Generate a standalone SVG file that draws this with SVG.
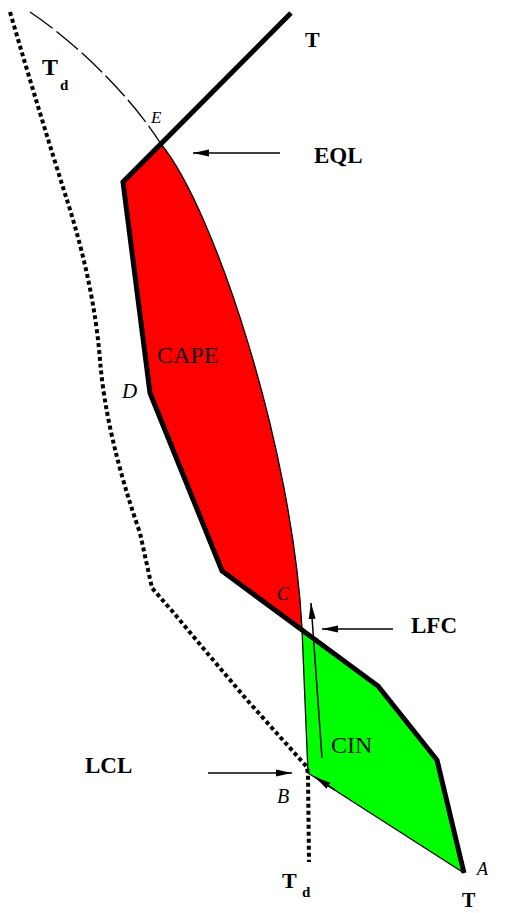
<svg xmlns="http://www.w3.org/2000/svg" width="531" height="913" viewBox="0 0 531 913">
<defs>
<style>
.lbl{font-family:"Liberation Serif","Times New Roman",serif;font-weight:bold;fill:#000}
.reg{font-family:"Liberation Serif","Times New Roman",serif;fill:#111}
.it{font-family:"Liberation Serif","Times New Roman",serif;font-style:italic;fill:#000}
.thin{fill:none;stroke:#000;stroke-width:1.3}
.arr{fill:none;stroke:#000;stroke-width:1.5}
</style>
<marker id="ah" markerUnits="userSpaceOnUse" viewBox="0 0 16 8" markerWidth="16" markerHeight="8" refX="16" refY="4" orient="auto">
<path d="M0,0.5 L16,4 L0,7.5 z" fill="#000"/>
</marker>
</defs>
<rect width="531" height="913" fill="#fff"/>
<g id="cape">
<path d="M161,144 L123,182 L150,393 L222,571 L302,629 C293,450 215,210 161,144 z" fill="#ff0000"/>
</g>
<g id="cin">
<path d="M302,629 L378,686 L437,760 L464,873 L308,773 z" fill="#00ff00"/>
</g>
<g id="connectors">
<path d="M30,12 C75,42 130,95 161,144" class="thin" stroke-dasharray="28,5"/>
<path d="M161,144 C215,210 293,450 302,629 L308,773 L464,873" class="thin"/>
<path d="M10,12 Q40,115 67,200 T100,360 T140,533 L152,588 L173,612 L203,648 L247,700 L307,767 L308,775 L309,862" fill="none" stroke="#000" stroke-width="4" stroke-dasharray="4,3" stroke-linejoin="round"/>
<path d="M291,13 L123,182 L150,393 L222,571 L378,686 L437,760 L464,873" fill="none" stroke="#000" stroke-width="5" stroke-linejoin="miter"/>
<path d="M280,153 L193,153" class="arr" marker-end="url(#ah)"/>
<path d="M393,629 L322,629" class="arr" marker-end="url(#ah)"/>
<path d="M208,773 L292,773" class="arr" marker-end="url(#ah)"/>
<path d="M322,758 L311,603" class="arr" marker-end="url(#ah)"/>
<path d="M335,790 L315,777" class="arr" stroke-width="1" marker-end="url(#ah)"/>
</g>
<g id="labels">
<text x="305" y="47" class="lbl" font-size="22">T</text>
<text x="42" y="75" class="lbl" font-size="24">T</text>
<text x="60" y="90" class="lbl" font-size="15">d</text>
<text x="151" y="123" class="it" font-size="17">E</text>
<text x="314" y="163" class="lbl" font-size="23">EQL</text>
<text x="157" y="363" class="reg" font-size="24">CAPE</text>
<text x="122" y="398" class="it" font-size="21">D</text>
<text x="277" y="600" class="it" font-size="18">C</text>
<text x="411" y="633" class="lbl" font-size="23">LFC</text>
<text x="331" y="753" class="reg" font-size="24">CIN</text>
<text x="85" y="773" class="lbl" font-size="23">LCL</text>
<text x="277" y="803" class="it" font-size="20">B</text>
<text x="477" y="875" class="it" font-size="18">A</text>
<text x="282" y="888" class="lbl" font-size="22">T</text>
<text x="302" y="897" class="lbl" font-size="15">d</text>
<text x="462" y="907" class="lbl" font-size="20">T</text>
</g>
</svg>
